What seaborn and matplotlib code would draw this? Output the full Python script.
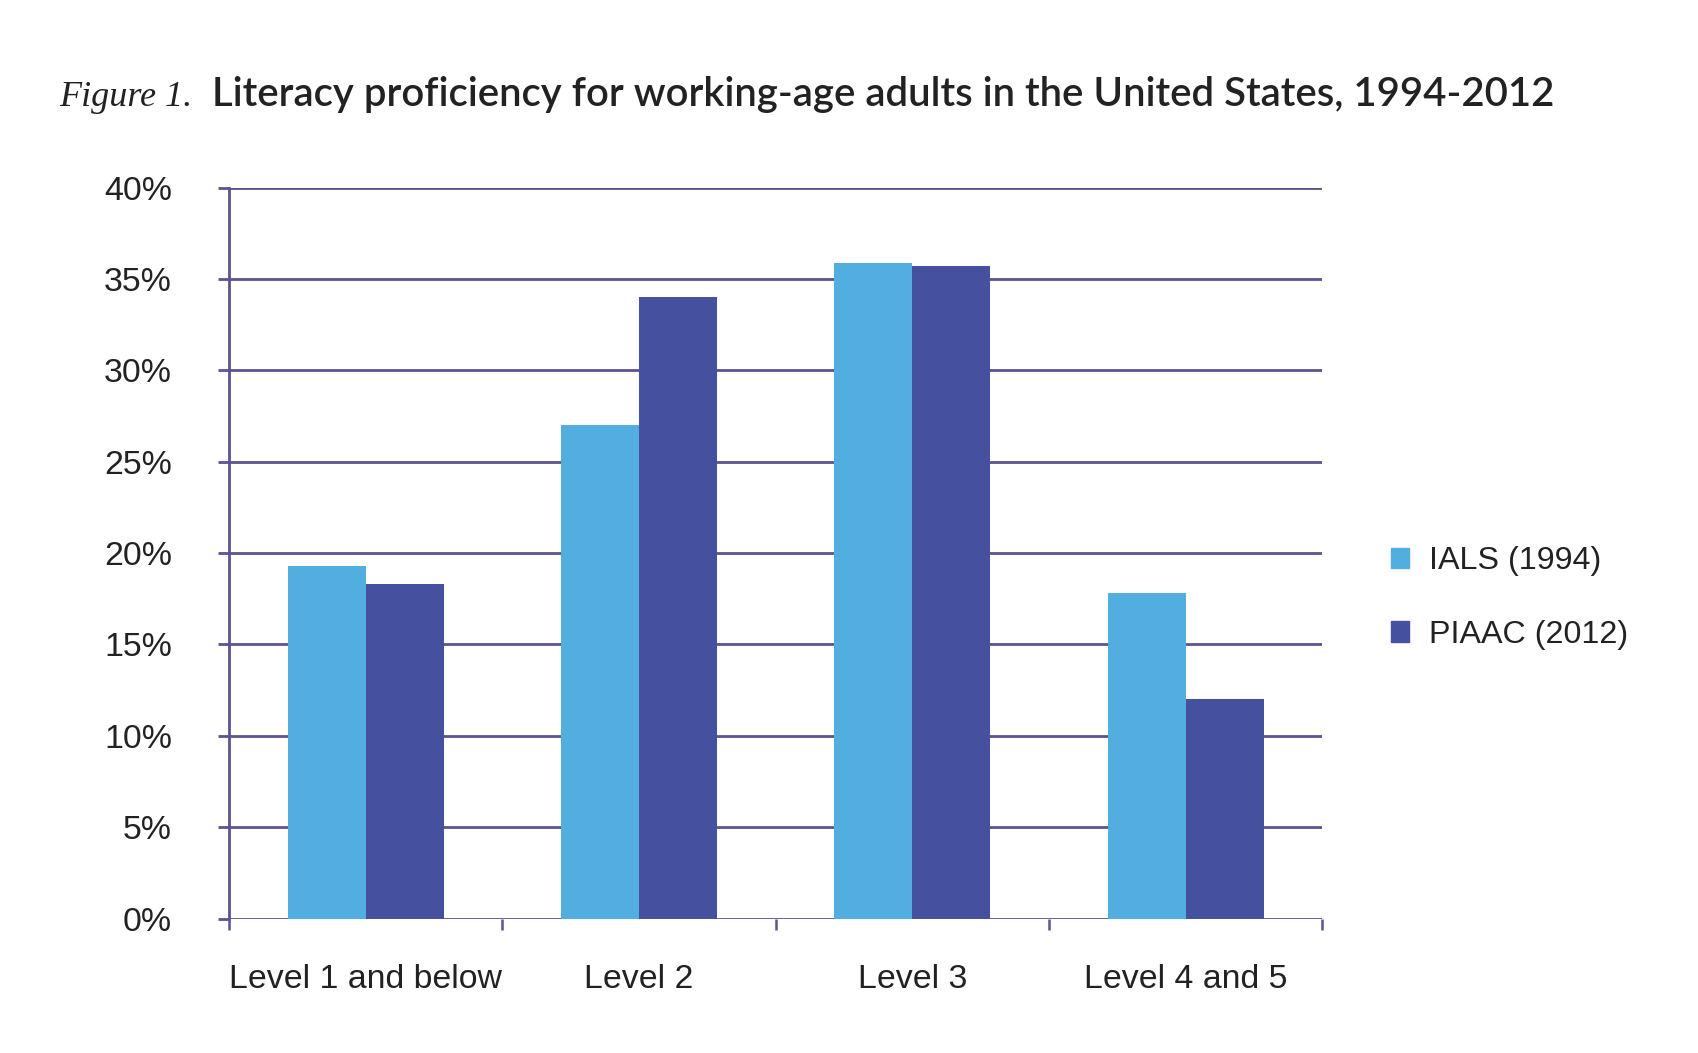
import pandas as pd
import numpy as np
import matplotlib
matplotlib.use('Agg')
import matplotlib.pyplot as plt
import seaborn as sns
from matplotlib.ticker import FixedLocator, PercentFormatter

# data
levels = ['Level 1 and below', 'Level 2', 'Level 3', 'Level 4 and 5']
ials_1994 = [19.3, 27.0, 35.9, 17.8]
piaac_2012 = [18.3, 34.0, 35.7, 12.0]
series_names = ['IALS (1994)', 'PIAAC (2012)']
y_ticks = [0, 5, 10, 15, 20, 25, 30, 35, 40]

df = pd.DataFrame({
    'Level': levels * 2,
    'Survey': [series_names[0]] * 4 + [series_names[1]] * 4,
    'Percent': ials_1994 + piaac_2012,
})

sns.set_theme(style='white')
plt.rcParams['font.family'] = ['Liberation Sans', 'DejaVu Sans']

grid_color = '#5F5290'
text_color = '#222222'
colors = ['#53AEE0', '#45509E']

fig = plt.figure(figsize=(16.99, 10.53), dpi=100)
ax = fig.add_axes([0.1348, 0.1277, 0.6435, 0.694])

sns.barplot(data=df, x='Level', y='Percent', hue='Survey', order=levels,
            hue_order=series_names, palette=colors, width=0.57,
            saturation=1, linewidth=0, ax=ax, zorder=3)

ax.set_xlim(-0.5, len(levels) - 0.5)
ax.set_ylim(0, 40)
ax.set_yticks(y_ticks)
ax.yaxis.set_major_formatter(PercentFormatter(decimals=0))
ax.grid(axis='y', color=grid_color, lw=2, zorder=0)
ax.set_axisbelow(True)

for side in ['top', 'right', 'bottom']:
    ax.spines[side].set_visible(False)
ax.spines['left'].set_color(grid_color)
ax.spines['left'].set_linewidth(2)

# category boundaries carry the x tick marks, labels sit at centres
ax.xaxis.set_minor_locator(FixedLocator(np.arange(-0.5, len(levels), 1.0)))
ax.tick_params(axis='x', which='minor', length=8, width=1.8, color=grid_color,
               direction='out', bottom=True)
ax.tick_params(axis='x', which='major', length=0, pad=33, labelsize=24.4,
               labelcolor=text_color)
ax.tick_params(axis='y', length=8, width=2, color=grid_color, direction='out',
               left=True, pad=33, labelsize=24.4, labelcolor=text_color)
ax.set_xlabel('')
ax.set_ylabel('')

ax.get_legend().remove()
handles = [plt.Rectangle((0, 0), 1, 1, color=c) for c in colors]
fig.legend(handles, series_names, loc='center left', bbox_to_anchor=(0.809, 0.432),
           frameon=False, fontsize=23.2, handlelength=0.58, handleheight=0.58,
           handletextpad=0.6, labelspacing=1.35, borderpad=0,
           labelcolor=text_color)

fig.text(0.035, 0.899, 'Figure 1.', fontsize=26, family=['Liberation Serif'],
         style='italic', color=text_color, va='baseline')
fig.text(0.1248, 0.899,
         'Literacy proficiency for working-age adults in the United States, 1994-2012',
         fontsize=28.9, family=['Lato', 'DejaVu Sans'], weight='semibold',
         color=text_color, va='baseline')

fig.savefig('out.png', dpi=100)
